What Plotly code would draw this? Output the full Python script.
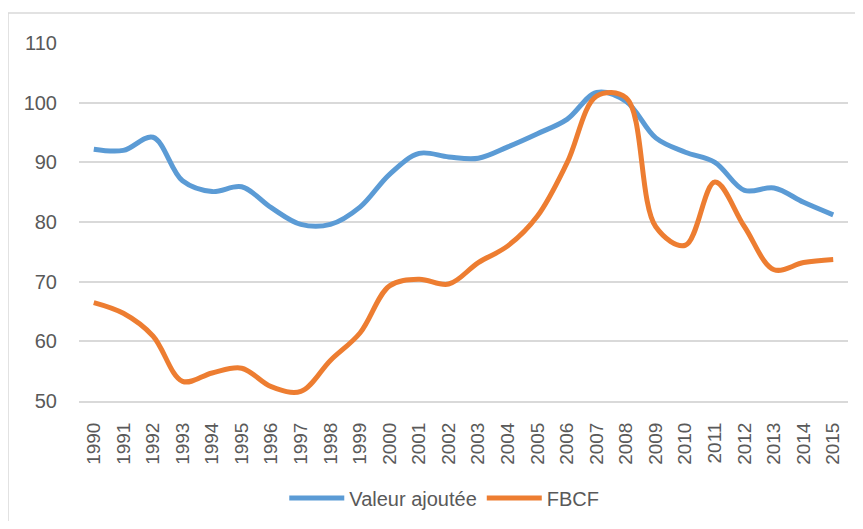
import plotly.graph_objects as go

years = [str(y) for y in range(1990, 2016)]
valeur_ajoutee = [92.2, 92.0, 94.2, 86.9, 85.1, 85.9, 82.4, 79.6, 79.6, 82.5,
                  88.0, 91.5, 90.9, 90.7, 92.6, 94.8, 97.2, 101.7, 100.2, 94.1,
                  91.7, 90.0, 85.3, 85.7, 83.3, 81.2]
fbcf = [66.5, 64.7, 60.9, 53.3, 54.7, 55.5, 52.4, 51.6, 56.8, 61.4,
        69.3, 70.4, 69.6, 73.2, 76.0, 81.0, 89.9, 101.1, 100.8, 79.2,
        76.1, 86.7, 79.2, 72.0, 73.2, 73.7]
y_ticks = [50, 60, 70, 80, 90, 100, 110]

FONT = "Liberation Sans, Arial, sans-serif"
GREY = "#595959"

fig = go.Figure()
fig.add_trace(go.Scatter(x=years, y=valeur_ajoutee, name="Valeur ajoutée", mode="lines",
                         line=dict(color="#5B9BD5", width=5, shape="spline", smoothing=1.0)))
fig.add_trace(go.Scatter(x=years, y=fbcf, name="FBCF", mode="lines",
                         line=dict(color="#ED7D31", width=5, shape="spline", smoothing=1.0)))

# page body has an 8px margin: figure coords = window coords - 8
W, H = 847, 513
L, R, T, B = 71, 840, 35, 393

fig.update_layout(
    width=W, height=H,
    margin=dict(l=L, r=W - R, t=T, b=H - B, autoexpand=False),
    paper_bgcolor="white", plot_bgcolor="white",
    font=dict(family=FONT, color=GREY),
    showlegend=True,
    legend=dict(orientation="h", x=0.475, xanchor="center",
                y=(B - 490) / (B - T), yanchor="middle",
                font=dict(size=20, family=FONT, color=GREY), itemwidth=55,
                tracegroupgap=0),
    xaxis=dict(type="category", range=[-0.5, 25.5], tickangle=-90, automargin=False,
               tickfont=dict(size=19, family=FONT, color=GREY),
               showgrid=False, showline=True, linecolor="#D9D9D9", linewidth=2,
               ticks="outside", ticklen=12, tickcolor="white", fixedrange=True),
    yaxis=dict(range=[50, 110], tickvals=y_ticks, showgrid=True, gridcolor="#D9D9D9",
               gridwidth=1.5, zeroline=False, showline=False, automargin=False,
               tickfont=dict(size=20, family=FONT, color=GREY),
               ticks="outside", ticklen=17, tickcolor="white"),
    shapes=[dict(type="rect", xref="paper", yref="paper",
                 x0=(0 - L) / (R - L), x1=2,
                 y0=-1, y1=(B - 5) / (B - T),
                 line=dict(color="#D9D9D9", width=1.5), fillcolor="rgba(0,0,0,0)",
                 layer="below")],
)

fig.write_html("out.html")
